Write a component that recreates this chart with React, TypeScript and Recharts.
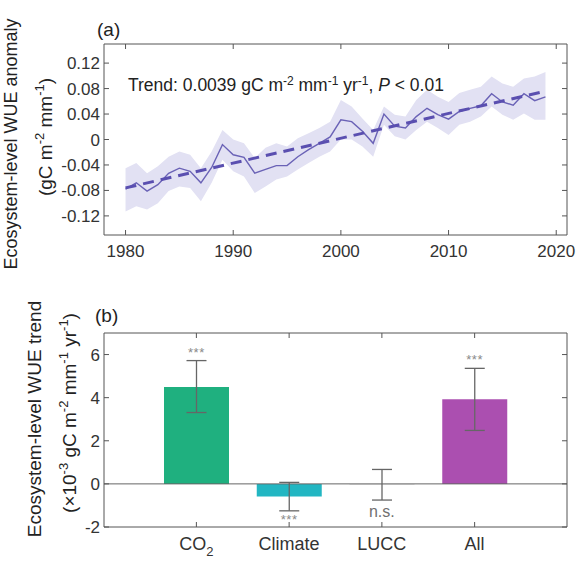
import {
  Area,
  Bar,
  Cell,
  ComposedChart,
  ErrorBar,
  LabelList,
  Line,
  ReferenceLine,
  XAxis,
  YAxis,
} from "recharts";

const FONT = "'Liberation Sans', Arial, Helvetica, sans-serif";
const INK = "#333333";
const FRAME = "#555555";

// panel (a): yearly ecosystem-level WUE anomaly
const YEARS = [
  1980, 1981, 1982, 1983, 1984, 1985, 1986, 1987, 1988, 1989,
  1990, 1991, 1992, 1993, 1994, 1995, 1996, 1997, 1998, 1999,
  2000, 2001, 2002, 2003, 2004, 2005, 2006, 2007, 2008, 2009,
  2010, 2011, 2012, 2013, 2014, 2015, 2016, 2017, 2018, 2019,
];
const WUE_ANOMALY = [
  -0.078, -0.068, -0.081, -0.071, -0.053, -0.045, -0.05, -0.068, -0.044, -0.008,
  -0.024, -0.028, -0.053, -0.047, -0.041, -0.041, -0.027, -0.016, -0.006, 0.004,
  0.031, 0.028, 0.013, -0.006, 0.04, 0.021, 0.018, 0.036, 0.049, 0.039,
  0.032, 0.044, 0.049, 0.053, 0.072, 0.059, 0.054, 0.072, 0.061, 0.067,
];
const WUE_UPPER = [
  -0.045, -0.037, -0.053, -0.042, -0.027, -0.019, -0.024, -0.045, -0.019, 0.015,
  0.0, -0.006, -0.029, -0.013, -0.006, -0.011, 0.002, 0.01, 0.018, 0.028,
  0.062, 0.052, 0.033, 0.015, 0.052, 0.039, 0.036, 0.062, 0.078, 0.067,
  0.059, 0.073, 0.078, 0.083, 0.099, 0.088, 0.083, 0.096, 0.099, 0.106,
];
const WUE_LOWER = [
  -0.113, -0.105, -0.11, -0.1, -0.081, -0.074, -0.076, -0.097, -0.068, -0.032,
  -0.05, -0.058, -0.084, -0.074, -0.063, -0.058, -0.047, -0.037, -0.027, -0.019,
  0.0, 0.0, -0.011, -0.027, 0.023, 0.005, 0.0, 0.015, 0.028, 0.018,
  0.007, 0.023, 0.028, 0.036, 0.052, 0.039, 0.031, 0.041, 0.031, 0.031,
];
const TREND_YEARS = [1980, 2019];
const TREND_VALUES = [-0.076, 0.076];
const YEAR_TICKS = [1980, 1990, 2000, 2010, 2020];
const ANOMALY_TICKS = [-0.12, -0.08, -0.04, 0, 0.04, 0.08, 0.12];

// panel (b): attribution of the WUE trend
const DRIVERS = ["CO2", "Climate", "LUCC", "All"];
const DRIVER_TREND = [4.5, -0.59, -0.03, 3.93];
const ERR_LOW = [1.19, 0.66, 0.72, 1.45];
const ERR_HIGH = [1.22, 0.66, 0.7, 1.43];
const SIGNIF = ["***", "***", "n.s.", "***"];
const DRIVER_COLORS = ["#1fb07f", "#22b6c2", "#cccccc", "#ab4fb0"];
const TREND_TICKS = [-2, 0, 2, 4, 6];

const seriesRows = YEARS.map((year, i) => {
  const t = TREND_YEARS.indexOf(year);
  return {
    year,
    wue: WUE_ANOMALY[i],
    band: [WUE_LOWER[i], WUE_UPPER[i]],
    trend: t >= 0 ? TREND_VALUES[t] : null,
  };
});

const driverRows = DRIVERS.map((name, i) => ({
  name,
  trend: DRIVER_TREND[i],
  err: [ERR_LOW[i], ERR_HIGH[i]],
  sigAt: DRIVER_TREND[i] > 0 ? DRIVER_TREND[i] + ERR_HIGH[i] : DRIVER_TREND[i] - ERR_LOW[i],
  sig: SIGNIF[i],
}));

const NoTick = () => <g />;

// text pieces, "^" prefix = superscript
function rich(parts: string[], supSize: number, rise: number) {
  let raised = false;
  return parts.map((p, i) => {
    const isSup = p.startsWith("^");
    let dy = 0;
    if (isSup && !raised) dy = -rise;
    if (!isSup && raised) dy = rise;
    raised = isSup;
    return (
      <tspan key={i} dy={dy} fontSize={isSup ? supSize : undefined}>
        {isSup ? p.slice(1) : p}
      </tspan>
    );
  });
}

function YearTick({ x, y, payload }: any) {
  return (
    <text x={x} y={y} dy="0.71em" textAnchor="middle" fill={INK} fontSize={17} fontFamily={FONT}>
      {payload.value}
    </text>
  );
}

function DriverTick({ x, y, payload }: any) {
  const v = String(payload.value);
  return (
    <text x={x} y={y} dy="0.71em" textAnchor="middle" fill={INK} fontSize={18} fontFamily={FONT}>
      {v === "CO2" ? (
        <>
          <tspan>CO</tspan>
          <tspan dy={6} fontSize={13}>2</tspan>
        </>
      ) : (
        v
      )}
    </text>
  );
}

function SigLabel({ x, y, index, value }: any) {
  const up = DRIVER_TREND[index] > 0;
  const stars = value === "***";
  const dy = up ? -4 : stars ? 13 : 17;
  return (
    <text
      x={x}
      y={y + dy}
      textAnchor="middle"
      fill={stars ? "#8a8a8a" : "#707070"}
      fontSize={stars ? 13 : 16}
      letterSpacing={stars ? 0.5 : 0}
      fontFamily={FONT}
    >
      {value}
    </text>
  );
}

function Annotations() {
  return (
    <svg
      width={576}
      height={564}
      style={{ position: "absolute", left: 0, top: 0, pointerEvents: "none" }}
      fontFamily={FONT}
      fill="#222"
    >
      <text x={97} y={36} fontSize={19}>(a)</text>
      <text x={95} y={322} fontSize={19}>(b)</text>
      <text transform="translate(17,144) rotate(-90)" textAnchor="middle" fontSize={18}>
        Ecosystem-level WUE anomaly
      </text>
      <text transform="translate(52,137) rotate(-90)" textAnchor="middle" fontSize={19}>
        {rich(["(gC m", "^-2", " mm", "^-1", ")"], 13, 8)}
      </text>
      <text transform="translate(41,419) rotate(-90)" textAnchor="middle" fontSize={19}>
        Ecosystem-level WUE trend
      </text>
      <text transform="translate(76,413) rotate(-90)" textAnchor="middle" fontSize={19}>
        {rich(["(×10", "^-3", " gC m", "^-2", " mm", "^-1", " yr", "^-1", ")"], 13, 8)}
      </text>
      <text x={128} y={91} fontSize={17.5} fill="#222">
        {rich(["Trend: 0.0039 gC m", "^-2", " mm", "^-1", " yr", "^-1", ", "], 12, 6)}
        <tspan fontStyle="italic">P</tspan>
        <tspan>{" < 0.01"}</tspan>
      </text>
    </svg>
  );
}

export default function App() {
  const tickStyle = { fill: INK, fontSize: 17, fontFamily: FONT };
  return (
    <div
      style={{
        position: "fixed",
        left: 0,
        top: 0,
        width: 576,
        height: 564,
        background: "#fff",
        overflow: "hidden",
      }}
    >
      <div style={{ position: "absolute", left: 0, top: 0 }}>
        <ComposedChart
          width={576}
          height={280}
          data={seriesRows}
          margin={{ top: 43, right: 8, bottom: 15, left: 44 }}
        >
          <XAxis
            dataKey="year"
            type="number"
            domain={[1978, 2021]}
            ticks={YEAR_TICKS}
            allowDataOverflow
            height={30}
            stroke={FRAME}
            tickSize={-5}
            tickMargin={15}
            tick={<YearTick />}
          />
          <XAxis
            xAxisId="top"
            orientation="top"
            dataKey="year"
            type="number"
            domain={[1978, 2021]}
            ticks={YEAR_TICKS}
            allowDataOverflow
            height={1}
            stroke={FRAME}
            tickSize={-5}
            tick={NoTick}
          />
          <YAxis
            type="number"
            domain={[-0.15, 0.15]}
            ticks={ANOMALY_TICKS}
            allowDataOverflow
            width={60}
            stroke={FRAME}
            tickSize={-5}
            tickMargin={9}
            tick={tickStyle}
            tickFormatter={(v: number) => (v === 0 ? "0" : v.toFixed(2))}
          />
          <YAxis
            yAxisId="r"
            orientation="right"
            type="number"
            domain={[-0.15, 0.15]}
            ticks={ANOMALY_TICKS}
            allowDataOverflow
            width={1}
            stroke={FRAME}
            tickSize={-5}
            tick={NoTick}
          />
          <Area
            dataKey="band"
            type="linear"
            stroke="none"
            fill="#e2e1f3"
            fillOpacity={1}
            isAnimationActive={false}
          />
          <Line
            dataKey="wue"
            type="linear"
            stroke="#6a62b6"
            strokeWidth={1.4}
            dot={false}
            activeDot={false}
            isAnimationActive={false}
          />
          <Line
            dataKey="trend"
            type="linear"
            stroke="#5a4fb0"
            strokeWidth={3}
            strokeDasharray="11 7"
            connectNulls
            dot={false}
            activeDot={false}
            isAnimationActive={false}
          />
        </ComposedChart>
      </div>
      <div style={{ position: "absolute", left: 0, top: 280 }}>
        <ComposedChart
          width={576}
          height={284}
          data={driverRows}
          margin={{ top: 52, right: 8, bottom: 7, left: 44 }}
        >
          <XAxis
            dataKey="name"
            height={30}
            padding={{ left: 46, right: 46 }}
            stroke={FRAME}
            tickSize={-5}
            tickMargin={15}
            tick={<DriverTick />}
            interval={0}
          />
          <XAxis
            xAxisId="top"
            orientation="top"
            dataKey="name"
            height={1}
            padding={{ left: 46, right: 46 }}
            stroke={FRAME}
            tickSize={-5}
            tick={NoTick}
            interval={0}
          />
          <YAxis
            type="number"
            domain={[-2, 7]}
            ticks={TREND_TICKS}
            allowDataOverflow
            width={60}
            stroke={FRAME}
            tickSize={-5}
            tickMargin={9}
            tick={tickStyle}
          />
          <YAxis
            yAxisId="r"
            orientation="right"
            type="number"
            domain={[-2, 7]}
            ticks={TREND_TICKS}
            allowDataOverflow
            width={1}
            stroke={FRAME}
            tickSize={-5}
            tick={NoTick}
          />
          <ReferenceLine y={0} stroke="#666" strokeWidth={1} />
          <Bar dataKey="trend" barSize={65} isAnimationActive={false}>
            {driverRows.map((d, i) => (
              <Cell key={d.name} fill={DRIVER_COLORS[i]} />
            ))}
            <ErrorBar dataKey="err" direction="y" width={10} stroke="#666" strokeWidth={1.3} />
          </Bar>
          <Line
            dataKey="sigAt"
            stroke="none"
            dot={false}
            activeDot={false}
            isAnimationActive={false}
          >
            <LabelList dataKey="sig" content={<SigLabel />} />
          </Line>
        </ComposedChart>
      </div>
      <Annotations />
    </div>
  );
}
